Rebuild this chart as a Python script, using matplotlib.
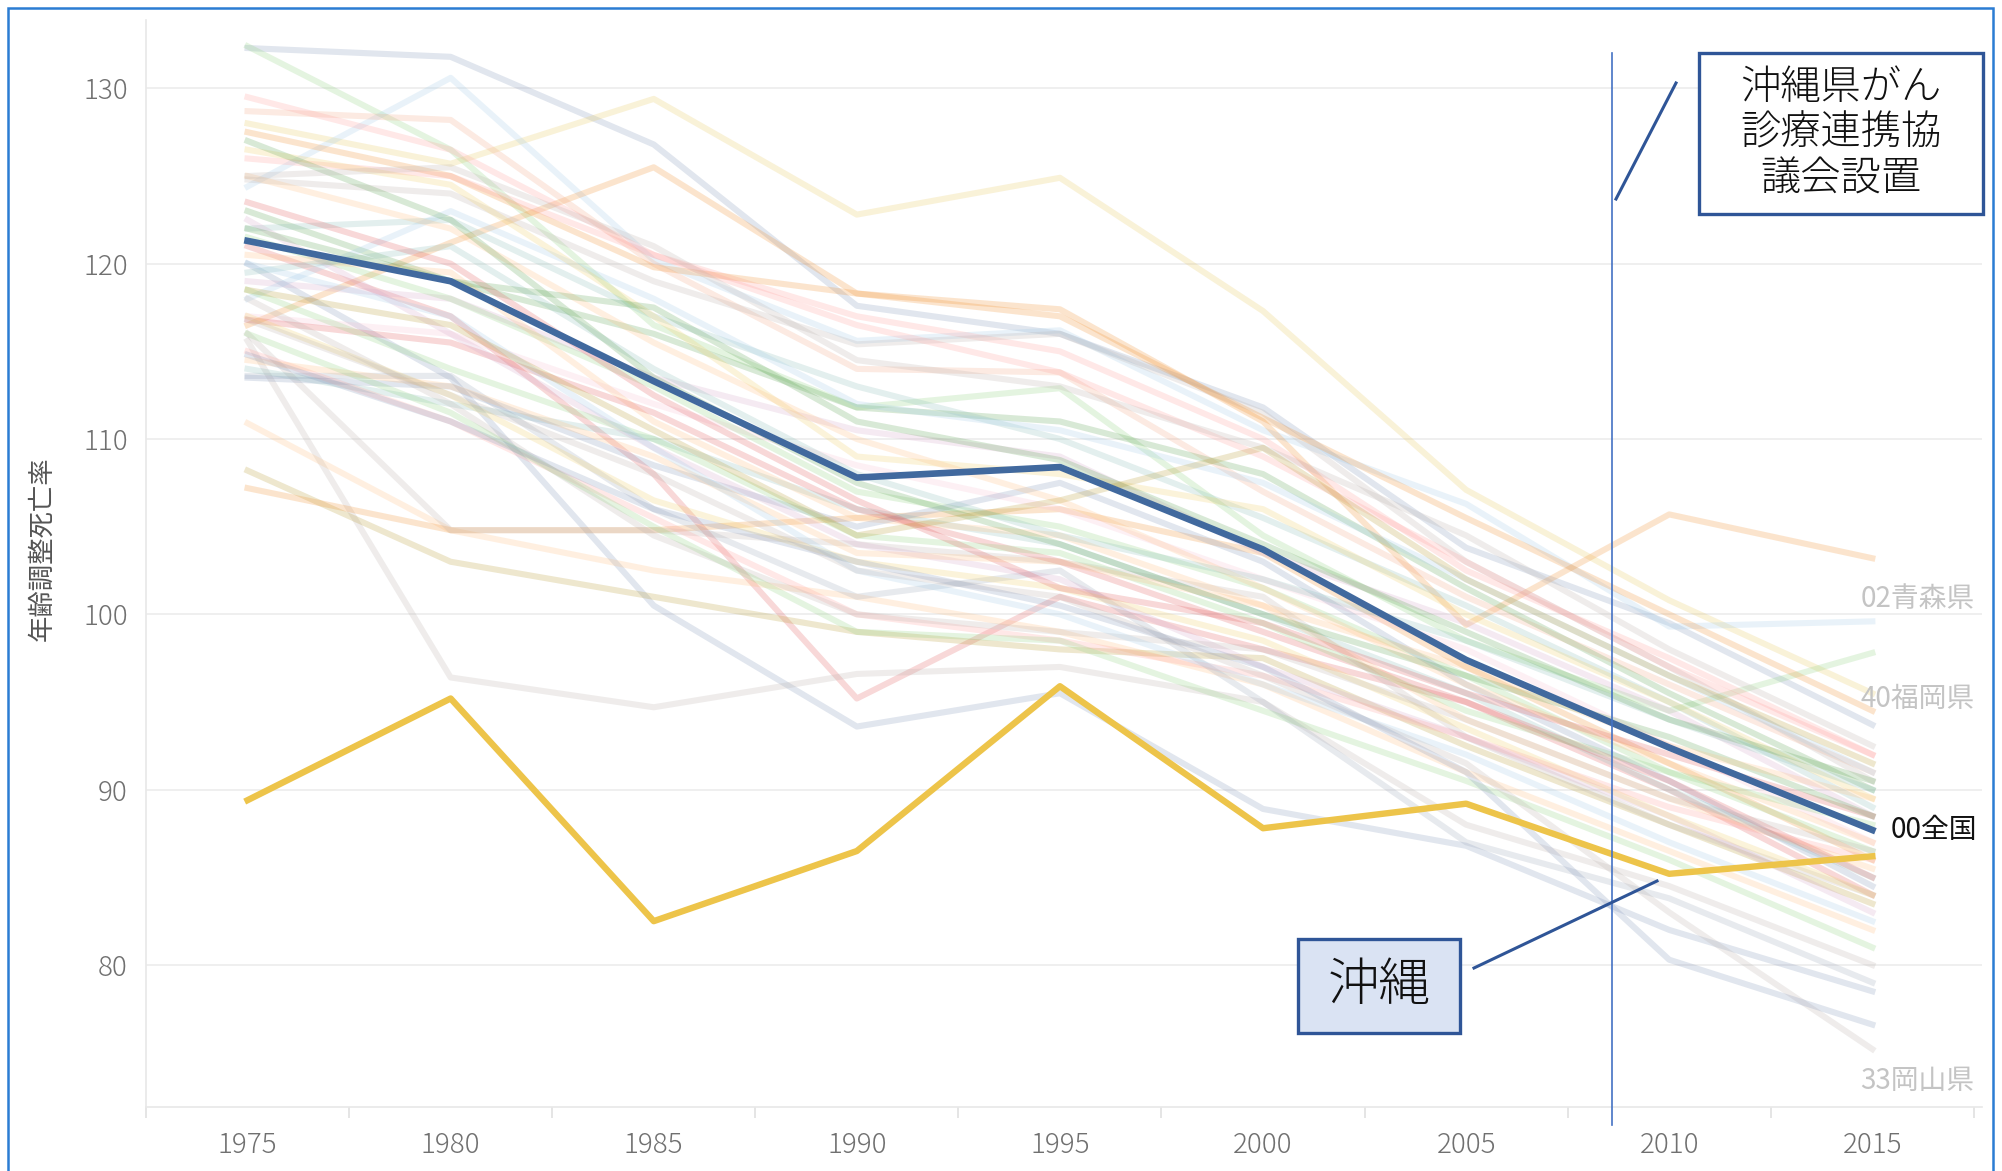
import matplotlib
matplotlib.use("Agg")
import matplotlib.pyplot as plt
from matplotlib.lines import Line2D
from matplotlib.patches import Rectangle

plt.rcParams['font.family'] = ['Noto Sans CJK JP', 'DejaVu Sans']

years = [1975, 1980, 1985, 1990, 1995, 2000, 2005, 2010, 2015]

# national average and Okinawa
national = [121.3, 119.0, 113.3, 107.8, 108.4, 103.7, 97.4, 92.4, 87.7]
okinawa = [89.4, 95.2, 82.5, 86.5, 95.9, 87.8, 89.2, 85.2, 86.2]

# other prefectures
prefectures = [
    [132.3, 131.8, 126.8, 117.6, 116.0, 111.8, 103.8, 99.5, 93.7],
    [128.0, 125.7, 129.4, 122.8, 124.9, 117.3, 107.1, 100.8, 95.5],
    [132.4, 126.5, 116.5, 111.8, 112.9, 104.5, 98.5, 94.5, 97.8],
    [124.4, 130.6, 120.2, 115.6, 116.2, 110.5, 106.3, 99.3, 99.6],
    [116.5, 121.2, 125.5, 118.3, 117.4, 111.0, 99.4, 105.7, 103.2],
    [128.7, 128.2, 120.0, 114.0, 113.8, 107.0, 101.0, 96.0, 91.0],
    [129.5, 126.5, 120.5, 117.0, 115.0, 110.0, 102.5, 97.5, 92.0],
    [124.8, 124.0, 119.0, 115.4, 116.0, 111.5, 103.0, 97.0, 90.5],
    [121.0, 117.0, 108.0, 95.2, 101.0, 98.0, 95.0, 90.0, 84.0],
    [120.0, 113.5, 100.5, 93.6, 95.5, 88.9, 86.8, 82.0, 78.5],
    [115.6, 96.4, 94.7, 96.6, 97.0, 95.0, 88.0, 84.5, 80.0],
    [110.9, 104.8, 102.5, 101.0, 99.0, 96.0, 91.0, 86.5, 82.0],
    [108.2, 103.0, 101.0, 99.0, 98.0, 97.5, 92.5, 88.0, 83.5],
    [107.2, 104.8, 104.8, 105.5, 106.0, 103.5, 97.0, 91.5, 86.0],
    [113.6, 113.6, 106.0, 101.0, 102.5, 95.0, 87.0, 83.8, 79.0],
    [116.0, 104.8, 104.8, 104.0, 103.0, 101.0, 93.0, 88.0, 84.0],
    [127.5, 125.0, 119.8, 118.3, 117.0, 111.2, 105.5, 100.0, 94.5],
    [126.0, 125.0, 120.5, 116.5, 113.8, 109.0, 103.0, 97.0, 92.0],
    [123.0, 119.0, 116.0, 111.8, 111.0, 108.0, 101.5, 95.5, 90.0],
    [122.0, 122.5, 117.0, 113.0, 110.0, 105.5, 100.5, 95.0, 89.0],
    [119.0, 118.0, 113.5, 110.5, 109.0, 103.5, 99.5, 94.5, 88.5],
    [118.0, 123.0, 118.0, 112.0, 110.5, 107.5, 102.0, 96.5, 91.0],
    [126.5, 124.5, 117.0, 109.0, 108.0, 106.0, 100.0, 95.0, 89.5],
    [117.0, 116.0, 112.0, 108.5, 106.0, 102.0, 98.0, 92.5, 87.0],
    [121.5, 118.0, 113.0, 107.0, 105.0, 101.5, 96.5, 91.0, 86.5],
    [114.0, 112.0, 110.0, 106.0, 104.0, 100.0, 95.5, 90.0, 85.0],
    [120.5, 119.5, 111.0, 105.5, 104.5, 100.5, 94.0, 89.5, 85.5],
    [113.5, 113.0, 108.5, 105.0, 107.5, 103.0, 96.0, 90.5, 84.5],
    [116.8, 115.5, 111.5, 106.0, 103.0, 99.0, 95.0, 90.5, 85.0],
    [122.5, 116.0, 109.5, 104.0, 102.0, 97.0, 93.0, 88.5, 83.0],
    [125.0, 122.0, 115.5, 110.0, 106.5, 101.5, 96.0, 91.5, 87.0],
    [118.5, 114.0, 110.0, 104.5, 103.5, 99.5, 94.5, 91.0, 88.0],
    [117.0, 112.5, 106.5, 103.0, 101.5, 98.5, 93.5, 88.5, 84.0],
    [115.0, 111.0, 105.5, 100.0, 98.5, 96.5, 93.0, 89.0, 86.0],
    [119.5, 121.0, 114.0, 108.0, 104.5, 102.0, 98.5, 94.0, 90.0],
    [123.5, 120.0, 112.5, 106.5, 101.5, 99.5, 95.5, 92.0, 88.5],
    [127.0, 122.5, 113.5, 107.5, 104.0, 100.0, 96.5, 93.0, 88.5],
    [114.5, 113.0, 109.0, 103.5, 103.0, 100.5, 97.0, 92.5, 89.5],
    [118.0, 112.0, 104.5, 100.0, 99.0, 98.0, 94.0, 89.5, 86.5],
    [120.0, 117.0, 109.5, 102.5, 100.0, 96.0, 92.0, 87.0, 82.5],
    [116.0, 111.5, 105.0, 99.0, 98.5, 94.5, 90.5, 86.0, 81.0],
    [122.0, 119.0, 117.5, 111.0, 108.8, 104.0, 99.0, 94.0, 90.5],
    [125.0, 125.5, 121.0, 114.5, 113.0, 109.5, 104.5, 98.0, 92.5],
    [118.5, 116.5, 110.5, 104.5, 106.5, 109.5, 102.0, 96.5, 91.5],
    [116.8, 112.5, 108.0, 102.5, 101.0, 96.5, 91.5, 83.0, 75.2],
    [114.8, 111.0, 106.0, 103.0, 100.5, 97.0, 91.0, 80.3, 76.6],
]

faint_colors = [
    "#7F93B8", "#E8C85A", "#8CD17D", "#A0CBE8", "#F28E2B", "#F4A582",
    "#FF9D9A", "#BAB0AC", "#E15759", "#7F93B8", "#BAB0AC", "#FFBE7D",
    "#B6992D", "#F28E2B", "#9AA5B8", "#BAB0AC", "#F28E2B", "#FF9D9A",
    "#59A14F", "#86BCB6", "#D4A6C8", "#A0CBE8", "#F1CE63", "#FABFD2",
    "#8CD17D", "#86BCB6", "#FFBE7D", "#7F93B8", "#E15759", "#D4A6C8",
    "#FFBE7D", "#8CD17D", "#F1CE63", "#FF9D9A", "#86BCB6", "#E15759",
    "#59A14F", "#FFBE7D", "#BAB0AC", "#A0CBE8", "#8CD17D", "#59A14F",
    "#BAB0AC", "#B6992D", "#BAB0AC", "#7F93B8",
]

end_labels = ["02青森県", "40福岡県", "33岡山県"]
end_label_y = [100.9, 95.2, 73.4]

W, H = 2002, 1171
fig = plt.figure(figsize=(W / 100, H / 100), dpi=100)
ax = fig.add_axes([146 / W, 1 - 1107 / H, (1982 - 146) / W, (1107 - 20) / H])


def fx(px):
    return px / W


def fy(py):
    return 1 - py / H


for vals, c in zip(prefectures, faint_colors):
    ax.plot(years, vals, color=c, alpha=0.23, lw=4.4, zorder=2)

ax.plot(years, okinawa, color="#EDC44A", lw=4.6, zorder=4)
ax.plot(years, national, color="#41699E", lw=4.8, zorder=5)

ax.set_xlim(1972.5, 2017.7)
ax.set_ylim(71.9, 133.9)
ax.set_yticks([80, 90, 100, 110, 120, 130])
ax.set_xticks(years)
ax.set_xticks([y + 2.5 for y in [1970] + years], minor=True)
ax.grid(axis="y", color="#efefef", lw=1.4)
ax.set_axisbelow(True)
for s in ["top", "right"]:
    ax.spines[s].set_visible(False)
for s in ["left", "bottom"]:
    ax.spines[s].set_color("#e8e8e8")
    ax.spines[s].set_linewidth(1.2)
ax.tick_params(axis="y", length=0, pad=13, labelsize=20, labelcolor="#707070")
ax.tick_params(axis="x", which="major", length=0, pad=17, labelsize=20, labelcolor="#707070")
ax.tick_params(axis="x", which="minor", length=8, width=1.2, color="#e0e0e0")
for lab in ax.get_xticklabels() + ax.get_yticklabels():
    lab.set_fontweight("light")

fig.text(fx(42), fy(549), "年齢調整死亡率", rotation=90, ha="center", va="center",
         fontsize=19, color="#555555")

# end labels
for lab, yv in zip(end_labels, end_label_y):
    ax.text(2014.7, yv, lab, ha="left", va="center", fontsize=20, color="#c4c4c4", zorder=6)
ax.text(2015.45, national[-1], "00全国", ha="left", va="center", fontsize=20, color="#111111", zorder=6)

# event line and annotation
fig.add_artist(Line2D([fx(1612), fx(1612)], [fy(53), fy(1125)], color="#4472C4", lw=1.2))
fig.add_artist(Line2D([fx(1676), fx(1616)], [fy(83), fy(199)], color="#2F5597", lw=2.2))
fig.add_artist(Rectangle((fx(1699), fy(214)), fx(1983 - 1699), (214 - 53) / H,
                         transform=fig.transFigure, facecolor="white", edgecolor="#2F5597", lw=2.4))
fig.text(fx(1841), fy(134), "沖縄県がん\n診療連携協\n議会設置", ha="center", va="center",
         fontsize=29, color="#111111", linespacing=1.12, fontweight="light")

fig.add_artist(Line2D([fx(1474), fx(1657)], [fy(968), fy(881)], color="#2F5597", lw=2.2))
fig.add_artist(Rectangle((fx(1298), fy(1033)), fx(1460 - 1298), (1033 - 939) / H,
                         transform=fig.transFigure, facecolor="#DAE3F3", edgecolor="#2F5597", lw=2.4))
fig.text(fx(1379), fy(986), "沖縄", ha="center", va="center", fontsize=37, color="#111111",
         fontweight="light")

# outer frame
fig.add_artist(Rectangle((fx(8), fy(1180)), fx(1993 - 8), (1180 - 8) / H,
                         transform=fig.transFigure, facecolor="none", edgecolor="#2B7CD3", lw=1.8))

fig.savefig("out.png", dpi=100)
